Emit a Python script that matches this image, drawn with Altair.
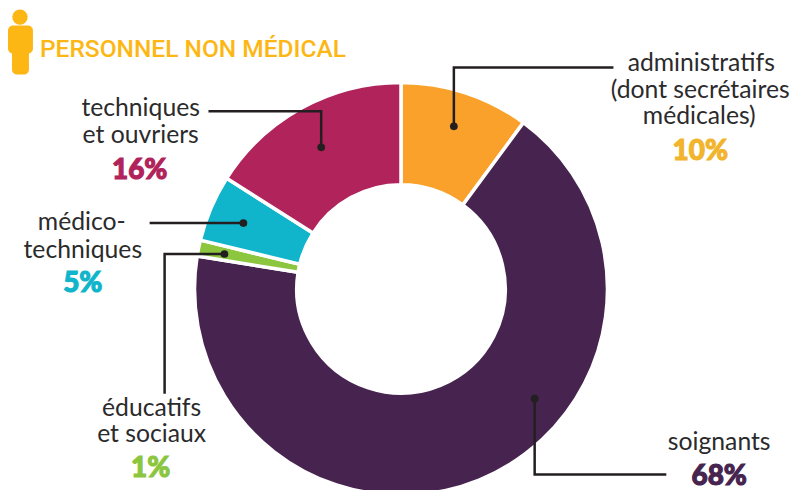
import altair as alt
import pandas as pd

# slices
categories = ["administratifs", "soignants", "éducatifs et sociaux", "médico-techniques", "techniques et ouvriers"]
shares = [10.1, 67.45, 1.25, 5.2, 16.0]
colors = ["#f9a12b", "#46244f", "#8cc63f", "#10b5cb", "#b0235b"]

# text
label_texts = ["techniques", "et ouvriers", "médico-", "techniques", "éducatifs", "et sociaux",
               "administratifs", "(dont secrétaires", "médicales)", "soignants"]
label_x = [139, 139, 80, 81, 150, 150, 701, 700, 699, 719]
label_y = [108, 135, 222, 250, 408, 434, 63, 90, 116, 442]
pct_texts = ["16%", "5%", "1%", "10%", "68%"]
pct_x = [138, 81, 149, 700, 719]
pct_y = [170, 283, 469, 151, 477]
pct_colors = ["#b0235b", "#10b5cb", "#8cc63f", "#f2b42c", "#46244f"]

# leaders
lead_id = ["t", "t", "t", "a", "a", "a", "m", "m", "e", "e", "e", "s", "s", "s"]
lead_x = [207, 320, 320, 613, 453, 453, 148, 242, 223, 163, 163, 534, 534, 666]
lead_y = [110, 110, 146, 66, 66, 125, 222, 222, 253, 253, 393, 398, 474, 474]
dot_x = [320, 453, 242, 223, 534]
dot_y = [146, 125, 222, 253, 398]

W, H = 783, 485
xs = alt.Scale(domain=[8, 8 + W], range=[0, W])
ys = alt.Scale(domain=[8, 8 + H], range=[0, H])
X = lambda f: alt.X(f, type="quantitative", scale=xs, axis=None)
Y = lambda f: alt.Y(f, type="quantitative", scale=ys, axis=None)

pie_df = pd.DataFrame({"cat": categories, "share": shares, "i": range(5)})
pie = alt.Chart(pie_df).mark_arc(radius=207, radius2=104.5, stroke="white", strokeWidth=3.5).encode(
    theta=alt.Theta("share:Q", stack=True, scale=alt.Scale(domain=[0, sum(shares)], range=[0, 6.28318530718])),
    order=alt.Order("i:Q"),
    color=alt.Color("cat:N", scale=alt.Scale(domain=categories, range=colors), legend=None),
    x=alt.value(400 - 8),
    y=alt.value(288 - 8),
)

lead = alt.Chart(pd.DataFrame({"id": lead_id, "x": lead_x, "y": lead_y, "k": range(len(lead_x))})).mark_line(
    color="#231f20", strokeWidth=2.5, strokeJoin="miter"
).encode(x=X("x"), y=Y("y"), detail="id:N", order="k:Q")

dots = alt.Chart(pd.DataFrame({"x": dot_x, "y": dot_y})).mark_circle(size=60, color="#231f20", opacity=1).encode(
    x=X("x"), y=Y("y"))

labels = alt.Chart(pd.DataFrame({"t": label_texts, "x": label_x, "y": label_y})).mark_text(
    font="Lato", fontSize=24.8, color="#2b2a2c", align="center", baseline="middle"
).encode(x=X("x"), y=Y("y"), text="t:N")

pct = alt.Chart(pd.DataFrame({"t": pct_texts, "x": pct_x, "y": pct_y, "c": pct_colors})).mark_text(
    font="Lato", fontSize=28, fontWeight=900, strokeWidth=1.1, align="center", baseline="middle"
).encode(x=X("x"), y=Y("y"), text="t:N",
         color=alt.Color("c:N", scale=None, legend=None),
         stroke=alt.Stroke("c:N", scale=None, legend=None))

title = alt.Chart(pd.DataFrame({"t": ["PERSONNEL NON MÉDICAL"], "x": [38], "y": [48]})).mark_text(
    font="Roboto", fontSize=24.6, fontWeight=500, color="#fdb714", align="left", baseline="middle"
).encode(x=X("x"), y=Y("y"), text="t:N")

head = alt.Chart(pd.DataFrame({"x": [18], "y": [15.5]})).mark_circle(size=240, color="#fdb714", opacity=1).encode(
    x=X("x"), y=Y("y"))
icon_df = pd.DataFrame({"x": [6, 10], "x2": [31, 27], "y": [24, 40], "y2": [52, 73]})
icon = alt.Chart(icon_df).mark_rect(cornerRadius=5, color="#fdb714").encode(
    x=X("x"), x2="x2:Q", y=Y("y"), y2="y2:Q")

chart = (pie + lead + dots + labels + pct + title + icon + head).resolve_scale(color="independent", stroke="independent").properties(
    width=W, height=H, padding=0, background="white"
).configure_view(stroke=None)

chart.save("out.html", embed_options={"renderer": "svg", "actions": False})
